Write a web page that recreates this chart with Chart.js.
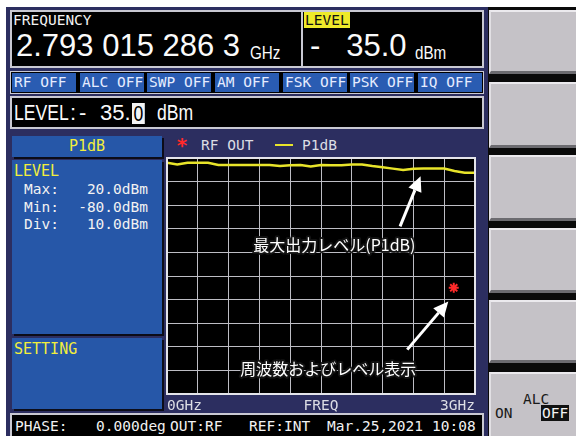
<!DOCTYPE html>
<html>
<head>
<meta charset="utf-8">
<script src="https://cdn.jsdelivr.net/npm/chart.js@4.4.1/dist/chart.umd.min.js"></script>
<style>
  html, body { margin: 0; padding: 0; background: #fff; }
  body { width: 576px; height: 436px; position: relative; overflow: hidden;
         font-family: "DejaVu Sans Mono", monospace; }
  .abs { position: absolute; }
  .screen { left: 6px; top: 7px; width: 482px; height: 429px; background: #2c2e60; }
  .keys { left: 488px; top: 7px; width: 88px; height: 429px; background: #0a0a0a; }
  .key { position: absolute; left: 1px; width: 87px; background: #c5c2c7;
         border-top: 2px solid #eceaee; border-left: 2px solid #e2e0e4;
         border-bottom: 3px solid #6c6b70; box-sizing: border-box; }
  .box { background: #000; border: 2px solid #c9c9d2; box-sizing: border-box; }
  .txt { position: absolute; white-space: pre; color: #f2f2f2; font-size: 14.5px; line-height: 16px; }
  .big { font-family: "Liberation Sans", Arial, sans-serif; color: #fafafa; }
  .nar { transform: scaleX(0.8); transform-origin: left top; }
  .cell { position: absolute; top: 73px; width: 64px; height: 19px; background: #2a5cb2;
          color: #e6ecff; font-size: 14.5px; line-height: 19px; padding-left: 2px; box-sizing: border-box; white-space: pre; }
  .panel { background: #2657a8; box-shadow: 2px 2px 0 #0c0c18; }
  .yel { color: #f2ee3c; }
</style>
</head>
<body>
<div class="abs screen"></div>
<div class="abs keys">
  <div class="key" style="top:3px;height:64px"></div>
  <div class="key" style="top:75px;height:66px"></div>
  <div class="key" style="top:148px;height:66px"></div>
  <div class="key" style="top:221px;height:65px"></div>
  <div class="key" style="top:293px;height:63px"></div>
  <div class="key" style="top:365px;height:70px">
    <div class="txt" style="left:32px;top:17px;color:#1a1a1a">ALC</div>
    <div class="txt" style="left:4px;top:31px;color:#1a1a1a">ON</div>
    <div class="txt" style="left:50px;top:31px;color:#f4f4f4;background:#111;padding:0 1px">OFF</div>
  </div>
</div>

<!-- frequency / level readout -->
<div class="abs box" style="left:10px;top:10px;width:474px;height:58px"></div>
<div class="abs" style="left:301px;top:10px;width:2px;height:58px;background:#c9c9d2"></div>
<div class="txt" style="left:13px;top:12px">FREQUENCY</div>
<div class="txt big" style="left:16px;top:28px;font-size:31px;line-height:36px">2.793 015 286 3</div>
<div class="txt big nar" style="left:250px;top:42px;font-size:19px;line-height:22px">GHz</div>
<div class="txt" style="left:304px;top:12px;background:#eeea2a;color:#111;padding:0 1px">LEVEL</div>
<div class="txt big" style="left:310px;top:28px;font-size:31px;line-height:36px">-   35.0</div>
<div class="txt big nar" style="left:415px;top:42px;font-size:19px;line-height:22px">dBm</div>

<!-- status bar -->
<div class="abs box" style="left:10px;top:71px;width:474px;height:23px;border-width:1px"></div>
<div class="cell" style="left:12px">RF OFF</div>
<div class="cell" style="left:80px">ALC OFF</div>
<div class="cell" style="left:147px">SWP OFF</div>
<div class="cell" style="left:215px">AM OFF</div>
<div class="cell" style="left:283px">FSK OFF</div>
<div class="cell" style="left:350px">PSK OFF</div>
<div class="cell" style="left:418px">IQ OFF</div>

<!-- level entry line -->
<div class="abs box" style="left:10px;top:96px;width:474px;height:33px"></div>
<div class="txt big nar" style="left:14px;top:100px;font-size:22px;line-height:25px">LEVEL</div>
<div class="txt big" style="left:70px;top:100px;font-size:22px;line-height:25px">:</div>
<div class="txt big" style="left:79px;top:100px;font-size:22px;line-height:25px">-</div>
<div class="txt big" style="left:100px;top:100px;font-size:22px;line-height:25px">35.</div>
<div class="txt big nar" style="left:132px;top:103px;font-size:22px;line-height:21px;background:#f4f4f4;color:#000;padding:0 2px">0</div>
<div class="txt big nar" style="left:157px;top:100px;font-size:22px;line-height:25px">dBm</div>

<!-- left panels -->
<div class="abs panel" style="left:12px;top:136px;width:150px;height:21px"></div>
<div class="txt yel" style="left:12px;top:138px;width:150px;text-align:center;font-size:15px">P1dB</div>
<div class="abs panel" style="left:12px;top:160px;width:150px;height:174px"></div>
<div class="txt yel" style="left:14px;top:163px;font-size:15px">LEVEL</div>
<div class="txt" style="left:24px;top:181px">Max:</div>
<div class="txt" style="left:24px;top:199px">Min:</div>
<div class="txt" style="left:24px;top:216px">Div:</div>
<div class="txt" style="left:60px;top:181px;width:88px;text-align:right">20.0dBm</div>
<div class="txt" style="left:60px;top:199px;width:88px;text-align:right">-80.0dBm</div>
<div class="txt" style="left:60px;top:216px;width:88px;text-align:right">10.0dBm</div>
<div class="abs panel" style="left:12px;top:338px;width:150px;height:71px"></div>
<div class="txt yel" style="left:14px;top:341px;font-size:15px">SETTING</div>

<!-- legend -->
<div class="txt" style="left:176px;top:135px;color:#ff2a2a;font-size:20px;line-height:20px;font-weight:bold">*</div>
<div class="txt" style="left:201px;top:137px;color:#dcdde4">RF OUT</div>
<div class="abs" style="left:275px;top:144px;width:18px;height:2px;background:#e8e42a"></div>
<div class="txt" style="left:302px;top:137px;color:#dcdde4">P1dB</div>

<!-- bottom status -->
<div class="abs box" style="left:10px;top:413px;width:474px;height:26px"></div>
<div class="txt" style="left:15px;top:418px">PHASE:</div>
<div class="txt" style="left:96px;top:418px">0.000deg</div>
<div class="txt" style="left:170px;top:418px">OUT:RF</div>
<div class="txt" style="left:249px;top:418px">REF:INT</div>
<div class="txt" style="left:327px;top:418px">Mar.25,2021</div>
<div class="txt" style="left:432px;top:418px">10:08</div>

<div class="abs" style="left:160px;top:150px;width:322px;height:263px">
  <canvas id="plot" width="322" height="263"></canvas>
</div>

<script>
// sweep frequency (GHz) and measured P1dB level (dBm)
const freqGHz = [0.0, 0.1, 0.2, 0.3, 0.4, 0.5, 0.6, 0.7, 0.8, 0.9,
                 1.0, 1.1, 1.2, 1.3, 1.4, 1.5, 1.6, 1.7, 1.8, 1.9,
                 2.0, 2.1, 2.2, 2.3, 2.4, 2.5, 2.6, 2.7, 2.8, 2.9, 3.0];
const p1dbLevel = [18.0, 17.3, 18.0, 18.0, 18.0, 17.0, 17.0, 17.0, 17.0, 17.0,
                   17.0, 16.6, 16.9, 17.0, 16.4, 17.0, 16.9, 16.9, 17.2, 17.2,
                   16.6, 16.1, 15.5, 14.9, 15.4, 15.6, 15.6, 15.5, 14.5, 13.8, 13.8];

// current RF output setting
const rfOutFreq = [2.7930152863];
const rfOutLevel = [-35.0];

// axis ticks
const xTickValues = [0, 0.3, 0.6, 0.9, 1.2, 1.5, 1.8, 2.1, 2.4, 2.7, 3.0];
const xTickLabels = ["0GHz", "", "", "", "", "FREQ", "", "", "", "", "3GHz"];
const levelMin = -80, levelMax = 20, levelDiv = 10;

// callouts, in data units
const callouts = [
  { text: "最大出力レベル(P1dB)", tx: 1.63, ty: -16.8, from: [2.27, -9.0], to: [2.47, 12.3] },
  { text: "周波数およびレベル表示", tx: 1.57, ty: -69.2, from: [2.34, -61.2], to: [2.74, -40.8] },
];

const MONO = '"DejaVu Sans Mono", monospace';

const screenPlugin = {
  id: "screen",
  beforeDraw(chart) {
    const { ctx, chartArea: a } = chart;
    ctx.save();
    ctx.fillStyle = "#000";
    ctx.fillRect(a.left, a.top, a.right - a.left, a.bottom - a.top);
    ctx.restore();
  },
  afterDraw(chart) {
    const { ctx, chartArea: a } = chart;
    ctx.save();
    ctx.strokeStyle = "#e4e4ea";
    ctx.lineWidth = 2;
    ctx.strokeRect(a.left, a.top, a.right - a.left, a.bottom - a.top);
    ctx.restore();
  },
};

const calloutPlugin = {
  id: "callouts",
  afterDatasetsDraw(chart) {
    const { ctx, scales: { x, y } } = chart;
    ctx.save();
    callouts.forEach(c => {
      const x0 = x.getPixelForValue(c.from[0]), y0 = y.getPixelForValue(c.from[1]);
      const x1 = x.getPixelForValue(c.to[0]),   y1 = y.getPixelForValue(c.to[1]);
      const ang = Math.atan2(y1 - y0, x1 - x0);
      const head = 15, hw = 7;
      const bx = x1 - head * Math.cos(ang), by = y1 - head * Math.sin(ang);
      ctx.strokeStyle = "#fff";
      ctx.fillStyle = "#fff";
      ctx.lineWidth = 3;
      ctx.beginPath();
      ctx.moveTo(x0, y0);
      ctx.lineTo(bx, by);
      ctx.stroke();
      ctx.beginPath();
      ctx.moveTo(x1, y1);
      ctx.lineTo(bx + hw * Math.sin(ang), by - hw * Math.cos(ang));
      ctx.lineTo(bx - hw * Math.sin(ang), by + hw * Math.cos(ang));
      ctx.closePath();
      ctx.fill();

      ctx.font = '16px "Noto Sans CJK JP", sans-serif';
      ctx.textAlign = "center";
      ctx.textBaseline = "middle";
      const tx = x.getPixelForValue(c.tx), ty = y.getPixelForValue(c.ty);
      ctx.lineJoin = "round";
      ctx.lineWidth = 4;
      ctx.strokeStyle = "rgba(20,20,20,0.9)";
      ctx.strokeText(c.text, tx, ty);
      ctx.fillStyle = "#fff";
      ctx.fillText(c.text, tx, ty);
    });
    ctx.restore();
  },
};

new Chart(document.getElementById("plot"), {
  type: "line",
  data: {
    datasets: [
      {
        label: "P1dB",
        data: freqGHz.map((f, i) => ({ x: f, y: p1dbLevel[i] })),
        borderColor: "#e8e42a",
        borderWidth: 2.5,
        pointRadius: 0,
        tension: 0,
        order: 2,
      },
      {
        label: "RF OUT",
        type: "scatter",
        data: rfOutFreq.map((f, i) => ({ x: f, y: rfOutLevel[i] })),
        pointStyle: "star",
        pointRadius: 5,
        borderColor: "#ff2a2a",
        borderWidth: 2,
        order: 1,
      },
    ],
  },
  options: {
    responsive: false,
    animation: false,
    layout: { padding: { left: 7, right: 7, top: 8, bottom: 0 } },
    plugins: { legend: { display: false }, tooltip: { enabled: false } },
    scales: {
      x: {
        type: "linear",
        min: 0,
        max: 3,
        afterBuildTicks: s => { s.ticks = xTickValues.map(v => ({ value: v })); },
        afterFit: s => { s.height = 19; },
        ticks: {
          autoSkip: false,
          maxRotation: 0,
          align: "inner",
          padding: 4,
          color: "#dcdde4",
          font: { family: MONO, size: 14.5 },
          callback: (v, i) => xTickLabels[i],
        },
        grid: { color: "#bdbdc4", lineWidth: 1, drawTicks: false },
        border: { display: false },
      },
      y: {
        min: levelMin,
        max: levelMax,
        ticks: { display: false, stepSize: levelDiv },
        afterFit: s => { s.width = 0; },
        grid: { color: "#bdbdc4", lineWidth: 1, drawTicks: false },
        border: { display: false },
      },
    },
  },
  plugins: [screenPlugin, calloutPlugin],
});
</script>
</body>
</html>
